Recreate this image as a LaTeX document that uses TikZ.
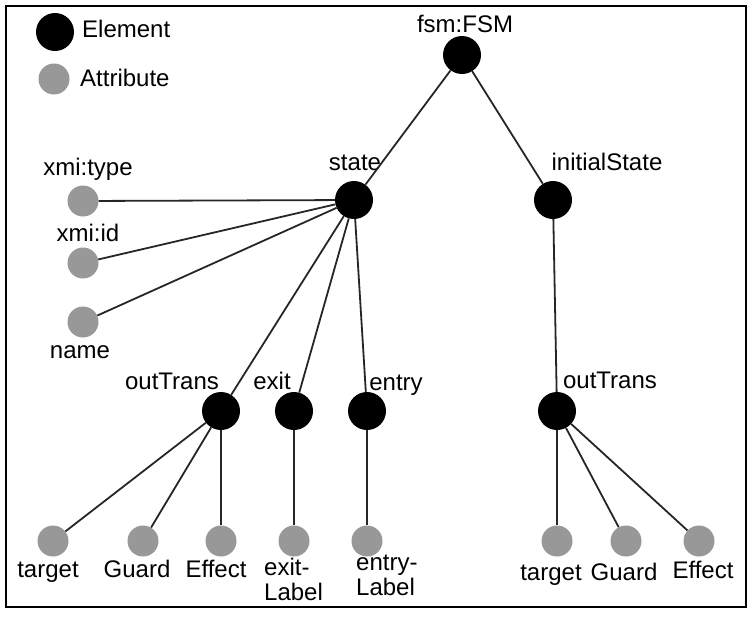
\documentclass[tikz,border=0pt]{standalone}
\usepackage{fontspec}
\setmainfont{Liberation Sans}
\definecolor{attrgray}{RGB}{152,152,152}
\begin{document}
\begin{tikzpicture}[x=1pt,y=-1pt,
  elem/.style={circle,fill=black,minimum size=38pt,inner sep=0pt},
  attr/.style={circle,fill=attrgray,minimum size=31pt,inner sep=0pt},
  txt/.style={font=\fontsize{24}{25}\selectfont,inner sep=0pt,anchor=base},
  edge/.style={line width=1.8pt,draw=black!85}]
\useasboundingbox (0,0) rectangle (754,616);
\draw[line width=1.8pt] (6,6) rectangle (746,607);
% legend
\node[elem] (k1) at (55,32) {};
\node[txt,anchor=base west] (k1t) at (82,37) {Element};
\node[attr] (k2) at (54,79) {};
\node[txt,anchor=base west] (k2t) at (80,86) {Attribute};
% elements
\node[elem] (a) at (462,55) {};
\node[elem] (b) at (354,200) {};
\node[elem] (c) at (553,200) {};
\node[elem] (d) at (221,411) {};
\node[elem] (e) at (294,411) {};
\node[elem] (f) at (367,411) {};
\node[elem] (g) at (557,411) {};
% attributes
\node[attr] (h) at (83,201) {};
\node[attr] (i) at (83,263) {};
\node[attr] (j) at (83,322) {};
\node[attr] (k) at (53,541) {};
\node[attr] (l) at (143,541) {};
\node[attr] (m) at (221,541) {};
\node[attr] (n) at (294,541) {};
\node[attr] (o) at (367,541) {};
\node[attr] (p) at (557,541) {};
\node[attr] (q) at (626,541) {};
\node[attr] (r) at (699,541) {};
% labels
\node[txt] (at) at (465,32) {fsm:FSM};
\node[txt] (bt) at (355,170) {state};
\node[txt] (ct) at (607,170) {initialState};
\node[txt] (dt) at (172,389) {outTrans};
\node[txt] (et) at (272,389) {exit};
\node[txt] (ft) at (396,390) {entry};
\node[txt] (gt) at (610,388) {outTrans};
\node[txt] (ht) at (88,175) {xmi:type};
\node[txt] (it) at (88,241) {xmi:id};
\node[txt] (jt) at (80,358) {name};
\node[txt] (kt) at (48,577) {target};
\node[txt] (lt) at (137,577) {Guard};
\node[txt] (mt) at (216,577) {Effect};
\node[txt,anchor=north west,align=left] (nt) at (264,558) {exit-\\Label};
\node[txt,anchor=north west,align=left] (ot) at (356,555) {entry-\\Label};
\node[txt] (pt) at (551,580) {target};
\node[txt] (qt) at (624,580) {Guard};
\node[txt] (rt) at (703,578) {Effect};
% connectors
\draw[edge] (a) to (b);
\draw[edge] (a) to (c);
\draw[edge] (b) to (h);
\draw[edge] (b) to (i);
\draw[edge] (b) to (j);
\draw[edge] (b) to (d);
\draw[edge] (b) to (e);
\draw[edge] (b) to (f);
\draw[edge] (c) to (g);
\draw[edge] (d) to (k);
\draw[edge] (d) to (l);
\draw[edge] (d) to (m);
\draw[edge] (e) to (n);
\draw[edge] (f) to (o);
\draw[edge] (g) to (p);
\draw[edge] (g) to (q);
\draw[edge] (g) to (r);
\end{tikzpicture}
\end{document}
